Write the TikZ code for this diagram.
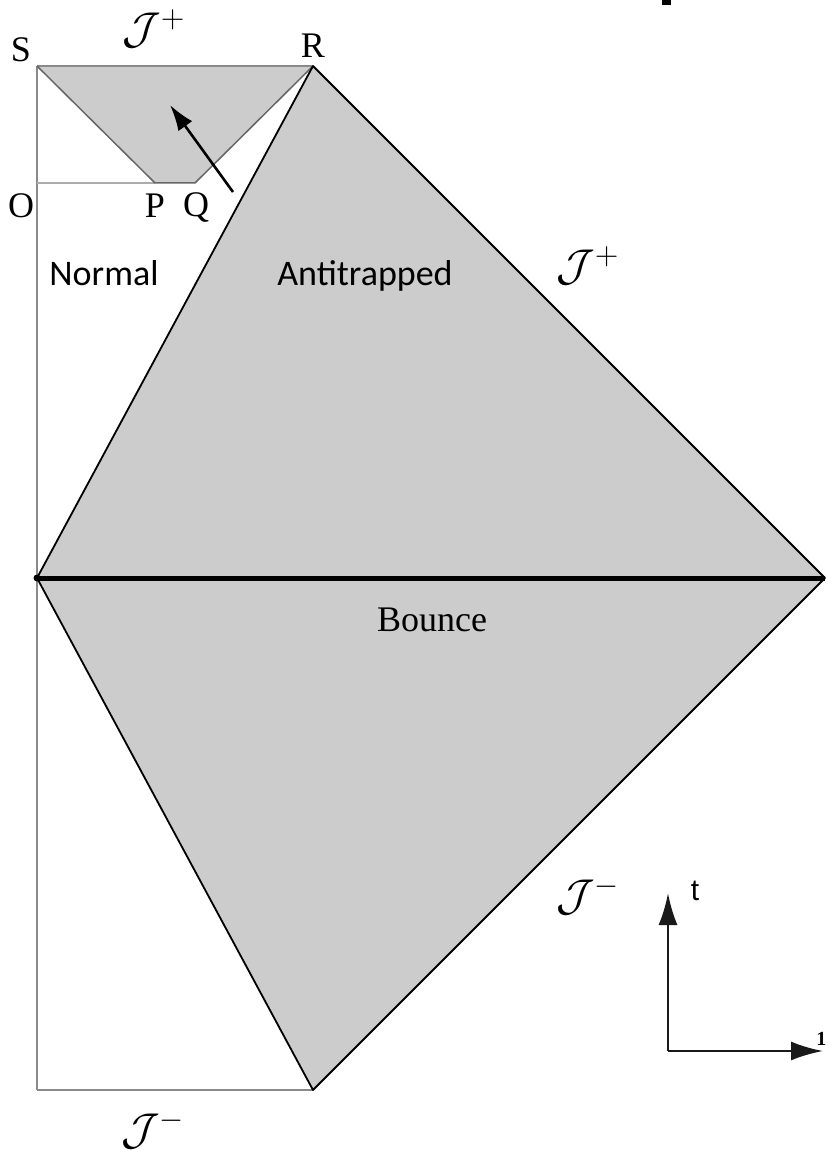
\documentclass[tikz,border=0pt]{standalone}
\usepackage{fontspec}
\setmainfont{Liberation Serif}
\newfontfamily\carlitofont{Carlito}
\newfontfamily\arialfont{Liberation Sans}
\usetikzlibrary{arrows.meta}
\definecolor{regiongray}{HTML}{CCCCCC}
\definecolor{thin}{HTML}{8A8A8A}
\tikzset{
  serif/.style={font=\fontsize{36}{40}\selectfont},
  sanslab/.style={font=\carlitofont\fontsize{36}{40}\selectfont},
  scri/.style={font=\fontsize{20}{24}\selectfont, scale=2.15, transform shape},
  edge/.style={draw=black, line width=1.8pt},
  grayline/.style={draw=thin, line width=1.8pt},
  axis/.style={draw=black!90, line width=2.6pt, -{Latex[length=32pt,width=19pt]}},
}
\begin{document}
\begin{tikzpicture}[x=1pt,y=-1pt]
\useasboundingbox (0,0) rectangle (827,1150);
% key points
\coordinate (S) at (37,66);
\coordinate (R) at (313,66);
\coordinate (O) at (37,183);
\coordinate (P) at (155,183);
\coordinate (Q) at (195,183);
\coordinate (L) at (37,578);
\coordinate (E) at (825,578);
\coordinate (B) at (313,1090);
\coordinate (BL) at (37,1090);
% fills
\fill[regiongray] (S) -- (R) -- (Q) -- (P) -- cycle;
\fill[regiongray] (R) -- (E) -- (B) -- (L) -- cycle;
% thin gray lines
\draw[grayline] (S) -- (BL);
\draw[draw=thin!70, line width=1.5pt] (O) -- (P);
\draw[grayline, line width=2.6pt] (BL) -- (B);
\draw[grayline] (S) -- (R);
\draw[draw=black!60, line width=1.5pt] (S) -- (P) -- (Q) -- (R);
% big region edges
\draw[edge, line join=round] (R) -- (E) -- (B) -- (L) -- cycle;
\draw[black, line width=5pt] (L) -- (E);
\fill[black] (L) circle (3.5pt);
% arrow in top region
\coordinate (a1) at (233,192);
\coordinate (a2) at (170,105);
\draw[black, line width=2.6pt, -{Latex[length=26pt,width=17pt]}] (a1) -- (a2);
% small black mark at top
\fill[black] (662,0) rectangle (671,5);
% axes
\coordinate (ax0) at (668,1051);
\coordinate (axt) at (668,893);
\coordinate (axr) at (823,1051);
\draw[axis] (ax0) -- (axt);
\draw[axis] (ax0) -- (axr);
% labels
\node[serif] (lS) at (21,50) {S};
\node[serif] (lR) at (313,46) {R};
\node[serif] (lO) at (21,206) {O};
\node[serif] (lP) at (155,206) {P};
\node[serif] (lQ) at (196,208) {Q};
\node[scri] (jtop) at (154,29) {$\mathcal{J}^{+}$};
\node[scri] (jright) at (588,266) {$\mathcal{J}^{+}$};
\node[scri] (jrm) at (588,896) {$\mathcal{J}^{-}$};
\node[scri] (jbot) at (153,1130) {$\mathcal{J}^{-}$};
\node[sanslab, anchor=base] (lN) at (104,285) {Normal};
\node[sanslab, anchor=base] (lA) at (365,285) {Antitrapped};
\node[serif] (lB) at (432,620) {Bounce};
\node[font=\arialfont\fontsize{30}{34}\selectfont] (lt) at (695,891) {t};
\node[font=\bfseries\fontsize{20}{24}\selectfont, anchor=east, inner sep=0.5pt] (l1) at (827,1039) {1};
\end{tikzpicture}
\end{document}
